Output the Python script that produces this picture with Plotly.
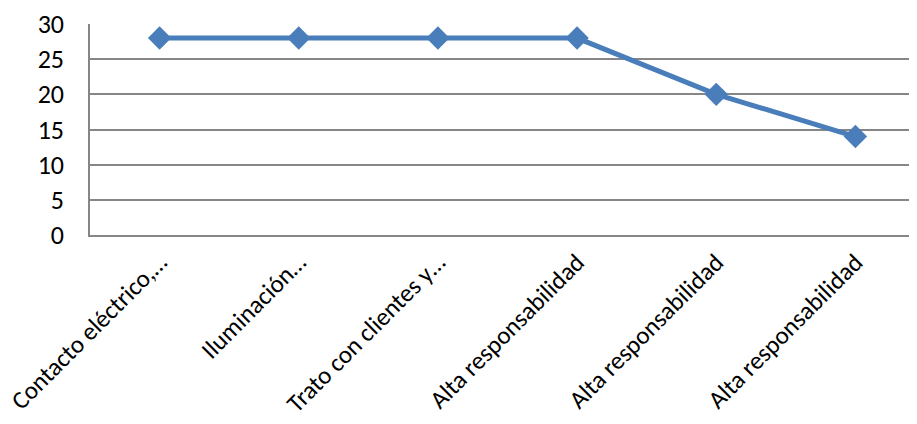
import plotly.graph_objects as go

categories = ["Contacto eléctrico,…", "Iluminación…", "Trato con clientes y…",
              "Alta responsabilidad", "Alta responsabilidad ", "Alta responsabilidad  "]
values = [28, 28, 28, 28, 20, 14]
y_ticks = [0, 5, 10, 15, 20, 25, 30]

fig = go.Figure()
fig.add_trace(go.Scatter(
    x=list(range(len(categories))), y=values, mode="lines+markers",
    line=dict(color="#4A7EBB", width=5),
    marker=dict(symbol="diamond", size=18, color="#4A7EBB"),
))

font = dict(family="Carlito, Calibri, Lato, sans-serif", size=26, color="#000000")
xfont = dict(family="Carlito, Calibri, Lato, sans-serif", size=25, color="#000000")

fig.update_layout(
    width=917, height=424,
    margin=dict(l=82, r=0, t=16, b=197),
    paper_bgcolor="white", plot_bgcolor="white",
    showlegend=False,
    font=font,
    xaxis=dict(
        range=[-0.5, 5.5], automargin=False,
        tickmode="array", tickvals=list(range(len(categories))), ticktext=[c.strip() for c in categories],
        tickangle=-45, showgrid=False, zeroline=False, ticklabeloverflow="allow",
        showline=True, linecolor="#868686", linewidth=1.5,
        ticks="outside", ticklen=1, tickcolor="rgba(0,0,0,0)",
        tickfont=xfont,
    ),
    yaxis=dict(
        range=[0, 30], tickvals=y_ticks, automargin=False,
        showgrid=True, gridcolor="#868686", gridwidth=1.5,
        zeroline=False, showline=True, linecolor="#868686", linewidth=1.5,
        ticks="outside", ticklen=19, tickcolor="rgba(0,0,0,0)",
        tickfont=font,
    ),
)

fig.write_html("out.html")
